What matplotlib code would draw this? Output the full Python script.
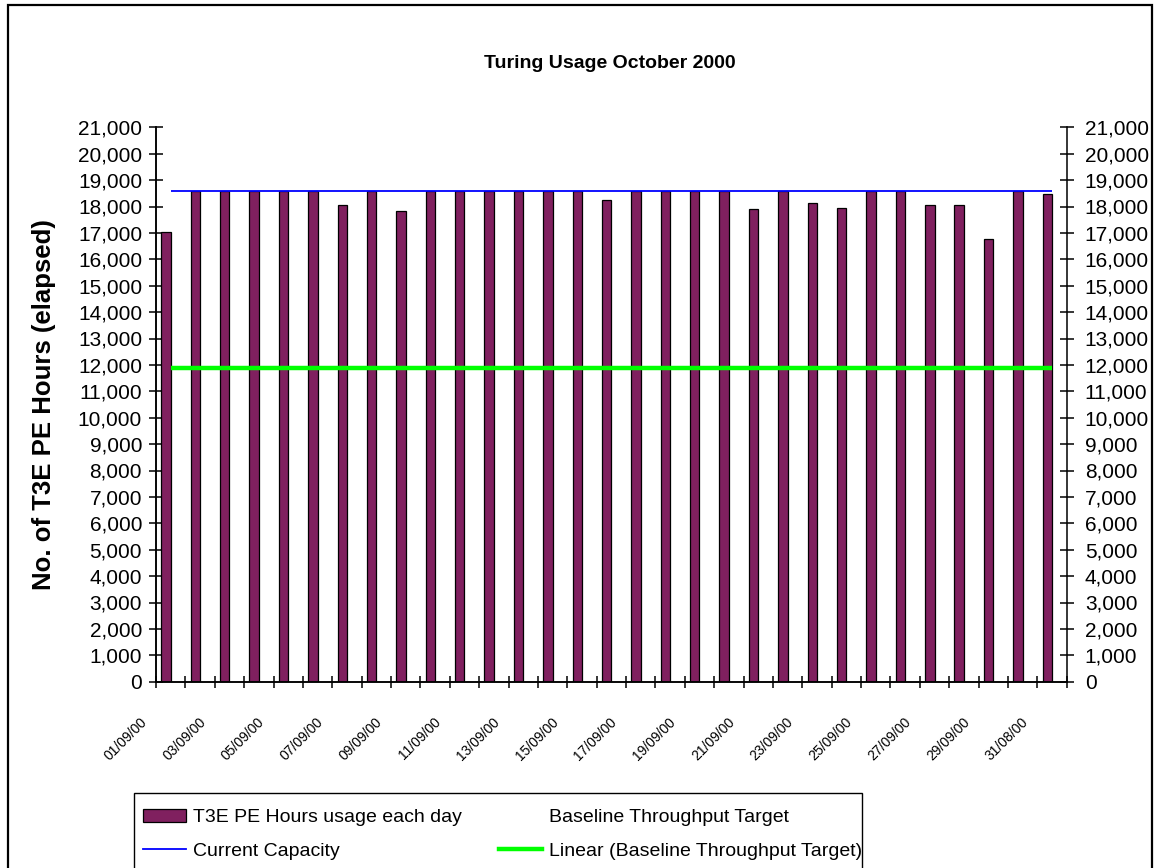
import numpy as np
import matplotlib.pyplot as plt
from matplotlib.patches import Patch, Rectangle
from matplotlib.lines import Line2D
from matplotlib.ticker import MultipleLocator, FuncFormatter
from matplotlib.transforms import ScaledTranslation

plt.rcParams['font.family'] = ['Liberation Sans', 'DejaVu Sans']

# one bar per day (the last category is labelled 31/08/00 in the original)
dates = ['%02d/09/00' % d for d in range(1, 31)] + ['31/08/00']
usage = [17050, 18600, 18600, 18600, 18600, 18600, 18050, 18600, 17820, 18600,
         18600, 18600, 18600, 18600, 18600, 18260, 18600, 18600, 18600, 18600,
         17900, 18600, 18120, 17960, 18600, 18600, 18040, 18040, 16770, 18600,
         18490]
capacity = 18600
baseline_trend = 11890

W, H = 1159, 868
fig = plt.figure(figsize=(W / 100, H / 100), dpi=100)
ax = fig.add_axes([156 / W, 1 - 681.7 / H, (1066.7 - 156) / W, (681.7 - 127.3) / H])

x = np.arange(len(dates))
bars = ax.bar(x - 0.16, usage, width=0.32, color='#80205F', edgecolor='black',
              linewidth=0.9, zorder=2)
cap = ax.hlines(capacity, x[0], x[-1], color='#0000FF', linewidth=1.3, zorder=3)
trend = ax.hlines(baseline_trend, x[0], x[-1], color='#00FF00', linewidth=3.2, zorder=3)

ax.set_xlim(-0.5, len(dates) - 0.5)
ax.set_ylim(0, 21000)

fmt = FuncFormatter(lambda v, p: '{:,.0f}'.format(v))
ax.yaxis.set_major_locator(MultipleLocator(1000))
ax.yaxis.set_major_formatter(fmt)
ax.tick_params(axis='y', direction='inout', length=10, width=1.1, labelsize=15, pad=5)

# tick marks between categories, labels on every other day
ax.set_xticks(np.arange(-0.5, len(dates), 1))
ax.set_xticklabels([])
ax.tick_params(axis='x', which='major', direction='inout', length=8.6, width=1.1)
ax.set_xticks(x[::2], minor=True)
ax.set_xticklabels(dates[::2], minor=True, rotation=45, ha='right', va='top', fontsize=10)
ax.tick_params(axis='x', which='minor', length=0, pad=24)
shift = ScaledTranslation(-21 / 100, 0, fig.dpi_scale_trans)
for lab in ax.get_xticklabels(minor=True):
    lab.set_transform(lab.get_transform() + shift)

ax2 = ax.twinx()
ax2.set_ylim(0, 21000)
ax2.yaxis.set_major_locator(MultipleLocator(1000))
ax2.yaxis.set_major_formatter(fmt)
ax2.tick_params(axis='y', direction='inout', length=10, width=1.1, labelsize=15, pad=8)

for a in (ax, ax2):
    a.spines['top'].set_visible(False)
    for s in ('left', 'right', 'bottom'):
        a.spines[s].set_linewidth(1.1)
ax.spines['right'].set_visible(False)

ax.set_ylabel('No. of T3E PE Hours (elapsed)', fontsize=18.5, fontweight='bold')
ax.yaxis.set_label_coords((56 - 156) / (1066.7 - 156), 0.5)

fig.text(610 / W, 1 - 63 / H, 'Turing Usage October 2000', ha='center', va='center',
         fontsize=14, fontweight='bold')

handles = [Patch(facecolor='#80205F', edgecolor='black', linewidth=0.9),
           Line2D([], [], color='#0000FF', linewidth=1.3),
           Patch(facecolor='none', edgecolor='none'),
           Line2D([], [], color='#00FF00', linewidth=3.2)]
labels = ['T3E PE Hours usage each day', 'Current Capacity',
          'Baseline Throughput Target', 'Linear (Baseline Throughput Target)']
leg = fig.legend(handles, labels, ncol=2, loc='upper left',
                 bbox_to_anchor=(134 / W, 1 - 800 / H), fontsize=14,
                 frameon=False, borderaxespad=0,
                 borderpad=0.45, handlelength=2.2, handletextpad=0.36,
                 columnspacing=1.95, labelspacing=0.8)

# legend box, cut off by the bottom of the picture like the original
fig.add_artist(Rectangle((134 / W, -0.05), (862 - 134) / W, 0.05 + 1 - 793 / H,
                         transform=fig.transFigure, fill=False,
                         edgecolor='black', linewidth=1.0))

# outer chart border (its bottom edge lies below the picture)
fig.add_artist(Rectangle((8 / W, -0.1), (1152 - 8) / W, 1.1 - 5 / H,
                         transform=fig.transFigure, fill=False,
                         edgecolor='black', linewidth=1.6))

fig.savefig('out.png', dpi=100)
